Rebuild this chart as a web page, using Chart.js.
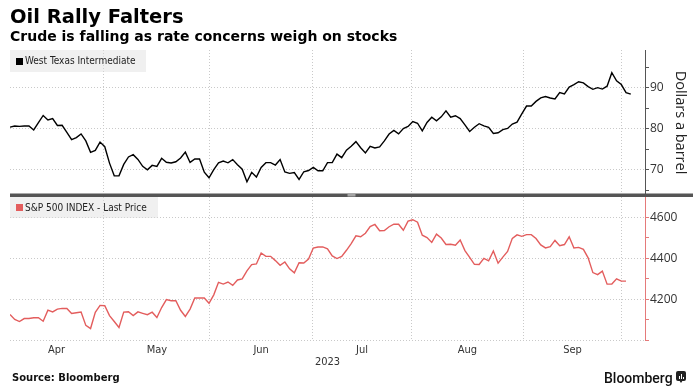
<!DOCTYPE html>
<html>
<head>
<meta charset="utf-8">
<script src="https://cdn.jsdelivr.net/npm/chart.js@4.4.0/dist/chart.umd.min.js"></script>
<style>
  html, body { margin: 0; padding: 0; background: #fff; }
  #wrap { position: relative; width: 693px; height: 392px; overflow: hidden; }
  #chart { position: absolute; left: 0; top: 0; }
  .txt { position: absolute; white-space: nowrap; color: #000; }
  #title { left: 10px; top: 7px; font: bold 19.5px/20px "DejaVu Sans"; }
  #sub { left: 10px; top: 29px; font: bold 14px/14px "DejaVu Sans"; }
  #src { left: 12px; top: 373px; font: bold 10px/10px "DejaVu Sans"; color: #111; }
  #brand { left: 604px; top: 371px; font: 500 14px/14px Roboto; color: #111; }
  .legend { position: absolute; height: 21px; background: rgba(222,222,222,0.45);
            font: 10px/21px "DejaVu Sans Condensed", "DejaVu Sans"; color: #222; white-space: nowrap; }
  .legend .sq { position: absolute; left: 6px; top: 7px; width: 7px; height: 7px; }
  .legend .lbl { position: absolute; left: 15px; top: 0; }
  #logo { position: absolute; left: 676px; top: 371px; width: 10px; height: 10px; background: #222; border-radius: 2px; }
  #logo i { position: absolute; bottom: 2px; width: 1px; background: #fff; }
  #logo b { position: absolute; left: 3px; top: 9px; border-left: 2px solid transparent; border-right: 2px solid transparent; border-top: 3px solid #222; }
</style>
</head>
<body>
<div id="wrap">
  <canvas id="chart" width="693" height="392"></canvas>
  <div class="txt" id="title">Oil Rally Falters</div>
  <div class="txt" id="sub">Crude is falling as rate concerns weigh on stocks</div>
  <div class="legend" style="left:10px;top:50px;width:136px;height:22px;line-height:22px;"><span class="sq" style="background:#000;top:8px"></span><span class="lbl">West Texas Intermediate</span></div>
  <div class="legend" style="left:10px;top:197px;width:148px;"><span class="sq" style="background:#e35d5d"></span><span class="lbl">S&amp;P 500 INDEX - Last Price</span></div>
  <div class="txt" id="src">Source: Bloomberg</div>
  <div class="txt" id="brand">Bloomberg</div>
  <div id="logo"><i style="left:3px;height:3px"></i><i style="left:5px;height:5px"></i><i style="left:7px;height:2px"></i><b></b></div>
</div>
<script>
// x position = weekday number counted from Mon 3 Apr 2023 (holidays carry the last price)
const months = ['Apr', 'May', 'Jun', 'Jul', 'Aug', 'Sep'];
const monthBreaks = [19.8, 42.2, 63.9, 84.8, 108.3, 129.1];
const monthCentres = [9.8, 31, 53, 74.3, 96.5, 118.7];
const yearLabel = '2023';

const oilTicks = [65, 70, 75, 80, 85, 90, 95];
const oilLabels = [70, 80, 90];
const spxTicks = [4000, 4100, 4200, 4300, 4400, 4500, 4600];
const spxLabels = [4200, 4400, 4600];

// West Texas Intermediate, dollars a barrel
const wti = [
  80.42, 80.71, 80.61, 80.70, 80.70, 79.74, 81.53, 83.26, 82.16, 82.52,
  80.83, 80.86, 79.16, 77.37, 77.87, 78.76, 77.07, 74.30, 74.76, 76.78,
  75.66, 71.66, 68.60, 68.56, 71.34, 73.16, 73.71, 72.56, 70.87, 70.04,
  71.11, 70.86, 72.83, 71.86, 71.69, 71.99, 72.91, 74.34, 71.83, 72.67,
  72.67, 69.46, 68.09,
  70.10, 71.74, 72.15, 71.74, 72.53, 71.29, 70.17, 67.12, 69.42, 68.27,
  70.62, 71.78, 71.78, 71.19, 72.53, 69.51, 69.16, 69.37, 67.70, 69.56,
  69.86, 70.64,
  69.79, 69.79, 71.79, 71.80, 73.86, 72.99, 74.83, 75.75, 76.89, 75.42,
  74.15, 75.75, 75.35, 75.63, 77.07, 78.74, 79.63, 78.78, 80.09, 80.58,
  81.80,
  81.37, 79.49, 81.55, 82.82, 81.94, 82.92, 84.40, 82.82, 83.19, 82.51,
  80.99, 79.38, 80.39, 81.25, 80.72, 80.35, 78.89, 79.05, 79.83, 80.10,
  81.16, 81.63, 83.63,
  85.55, 85.55, 86.69, 87.54, 87.87, 87.51, 87.29, 88.84, 88.52, 90.16,
  90.77, 91.48, 91.20, 90.28, 89.63, 90.03, 89.68, 90.39, 93.68, 91.71,
  90.79,
  88.82, 88.45
];

// S&P 500 index, last price
const spx = [
  4124.5, 4100.6, 4090.4, 4105.0, 4105.0, 4109.1, 4108.9, 4092.0, 4146.2, 4137.6,
  4151.3, 4154.9, 4154.5, 4129.8, 4133.5, 4137.0, 4071.6, 4056.0, 4135.4, 4169.5,
  4167.9, 4119.6, 4090.8, 4061.2, 4136.3, 4138.1, 4119.2, 4137.6, 4130.6, 4124.1,
  4136.3, 4109.9, 4158.8, 4198.1, 4192.0, 4192.6, 4145.6, 4115.2, 4151.3, 4205.5,
  4205.5, 4205.5, 4179.8,
  4221.0, 4282.4, 4273.8, 4283.9, 4267.5, 4293.9, 4298.9, 4338.9, 4369.0, 4372.6,
  4425.8, 4409.6, 4409.6, 4388.7, 4365.7, 4381.9, 4348.3, 4328.8, 4378.4, 4376.9,
  4396.4, 4450.4,
  4455.6, 4455.6, 4446.8, 4411.6, 4399.0, 4409.5, 4439.3, 4472.2, 4510.0, 4505.4,
  4522.8, 4555.0, 4565.7, 4534.9, 4536.3, 4554.6, 4567.5, 4566.8, 4537.4, 4582.2,
  4589.0,
  4576.7, 4513.4, 4501.9, 4478.0, 4518.4, 4499.4, 4467.7, 4468.8, 4464.1, 4489.7,
  4437.9, 4404.3, 4370.4, 4369.7, 4399.8, 4387.6, 4436.0, 4376.3, 4405.7, 4433.3,
  4497.6, 4514.9, 4507.7,
  4515.8, 4515.8, 4496.8, 4465.5, 4451.1, 4457.5, 4487.5, 4461.9, 4467.4, 4505.1,
  4450.3, 4453.5, 4444.0, 4402.2, 4330.0, 4320.1, 4337.4, 4273.5, 4274.5, 4299.7,
  4288.1,
  4288.4
];

const GRID = '#c9c9c9';
const CLEAR = 'rgba(0,0,0,0)';
const RED = '#e35d5d';

// thick bar between the two panels
const separator = {
  id: 'separator',
  afterDraw(chart) {
    const ctx = chart.ctx;
    const y = chart.scales.yOil.bottom;
    const x0 = chart.chartArea.left;
    ctx.save();
    ctx.fillStyle = '#555';
    ctx.fillRect(x0, y - 1.5, chart.width - x0, 3.5);
    ctx.fillStyle = '#a5a5a5';
    ctx.fillRect((x0 + chart.width) / 2 - 4, y - 1, 8, 2.5);
    ctx.restore();
  }
};

new Chart(document.getElementById('chart'), {
  type: 'line',
  data: {
    datasets: [{
      label: 'West Texas Intermediate',
      data: wti.map((v, i) => ({ x: i, y: v })),
      yAxisID: 'yOil',
      borderColor: '#000',
      borderWidth: 1.4
    }, {
      label: 'S&P 500 INDEX - Last Price',
      data: spx.map((v, i) => ({ x: i, y: v })),
      yAxisID: 'ySpx',
      borderColor: RED,
      borderWidth: 1.4
    }]
  },
  options: {
    responsive: false,
    animation: false,
    layout: { padding: { left: 10, top: 50, right: 0, bottom: 0 } },
    plugins: { legend: { display: false }, tooltip: { enabled: false } },
    elements: { point: { radius: 0 }, line: { tension: 0 } },
    scales: {
      x: {
        type: 'linear',
        min: 0,
        max: 134,
        afterBuildTicks: s => {
          s.ticks = monthBreaks.concat(monthCentres).sort((a, b) => a - b).map(v => ({ value: v }));
        },
        afterFit: s => { s.height = 52; },
        grid: {
          drawTicks: false,
          color: c => (c.tick && monthBreaks.includes(c.tick.value)) ? GRID : CLEAR
        },
        border: { display: false, dash: [1, 2] },
        ticks: {
          autoSkip: false,
          maxRotation: 0,
          padding: 4,
          color: '#333',
          font: { family: '"DejaVu Sans Condensed", "DejaVu Sans"', size: 11 },
          callback: v => {
            const k = monthCentres.indexOf(v);
            return k >= 0 ? months[k] : '';
          }
        },
        title: {
          display: true,
          text: yearLabel,
          color: '#333',
          font: { family: '"DejaVu Sans Condensed", "DejaVu Sans"', size: 11 },
          padding: { top: 0, bottom: 23 }
        }
      },
      yOil: {
        type: 'linear',
        position: 'right',
        stack: 'panels',
        stackWeight: 1,
        min: 63.9,
        max: 99.2,
        afterBuildTicks: s => { s.ticks = oilTicks.map(v => ({ value: v })); },
        afterFit: s => { s.width = 48; },
        grid: {
          tickLength: 4,
          tickColor: '#555',
          color: c => (c.tick && oilLabels.includes(c.tick.value)) ? GRID : CLEAR
        },
        border: { display: true, color: '#555', width: 1, dash: [1, 2] },
        ticks: {
          autoSkip: false,
          padding: 1,
          color: '#333',
          font: { family: '"Open Sans"', size: 12 },
          callback: v => oilLabels.includes(v) ? String(v) : ''
        },
        title: {
          display: true,
          text: 'Dollars a barrel',
          color: '#222',
          font: { family: '"Open Sans"', size: 14.5 },
          padding: { top: 4, bottom: 0 }
        }
      },
      ySpx: {
        type: 'linear',
        position: 'right',
        stack: 'panels',
        stackWeight: 1,
        min: 4000,
        max: 4710,
        afterBuildTicks: s => { s.ticks = spxTicks.map(v => ({ value: v })); },
        afterFit: s => { s.width = 48; },
        grid: {
          tickLength: 4,
          tickColor: '#e57a7a',
          color: c => (c.tick && (spxLabels.includes(c.tick.value) || c.tick.value === 4000)) ? GRID : CLEAR
        },
        border: { display: true, color: '#e57a7a', width: 1, dash: [1, 2] },
        ticks: {
          autoSkip: false,
          padding: 1,
          color: '#333',
          font: { family: '"Open Sans"', size: 12 },
          callback: v => spxLabels.includes(v) ? String(v) : ''
        }
      }
    }
  },
  plugins: [separator]
});
</script>
</body>
</html>
